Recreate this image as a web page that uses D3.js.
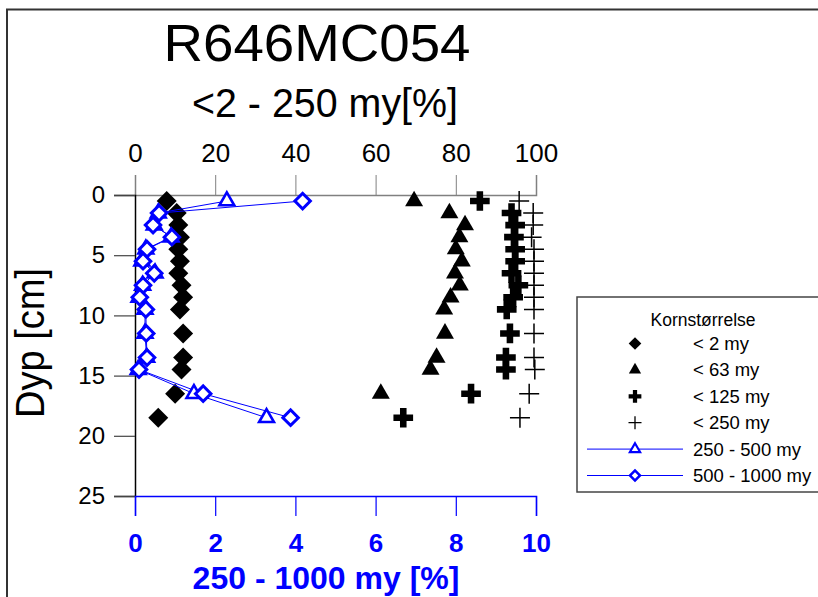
<!DOCTYPE html>
<html><head><meta charset="utf-8">
<script src="https://cdn.jsdelivr.net/npm/d3@7"></script>
<style>
html,body{margin:0;padding:0;background:#fff;overflow:hidden;}
svg{display:block;font-family:"Liberation Sans",Arial,sans-serif;}
</style></head>
<body>
<svg id="chart" width="818" height="597"></svg>
<script>
// ---- data ----
const depths   = [0.5,1.5,2.5,3.5,4.5,5.5,6.5,7.5,8.5,9.5,11.5,13.5,14.5,16.5,18.5];
const lt2      = [7.9,10.4,10.8,11.2,10.8,11.2,10.8,11.6,12.0,11.2,12.0,12.0,11.6,10.0,5.8];
const lt63     = [69.6,78.4,82.3,80.9,80.0,81.5,79.8,81.0,78.7,77.1,77.3,75.2,73.7,61.3,null];
const lt125    = [86.0,93.9,94.8,94.5,94.8,94.8,93.9,95.6,94.3,92.7,93.5,92.5,92.5,83.8,66.9];
const lt250    = [95.8,99.3,99.3,98.9,99.5,99.5,99.5,99.5,99.5,99.5,99.5,99.5,99.7,98.3,96.0];
const r250_500 = [2.29,0.58,0.48,0.90,0.27,0.17,0.50,0.19,0.10,0.25,0.25,0.29,0.08,1.47,3.28];
const r500_1000= [4.18,0.60,0.45,0.92,0.30,0.20,0.48,0.20,0.12,0.27,0.28,0.30,0.10,1.70,3.88];
const topTicks    = [0,20,40,60,80,100];
const bottomTicks = [0,2,4,6,8,10];
const depthTicks  = [0,5,10,15,20,25];
const legendLabels = ["< 2 my","< 63 my","< 125 my","< 250 my","250 - 500 my","500 - 1000 my"];
const titleText = "R646MC054";
const subtitleText = "<2 - 250 my[%]";
const legendTitle = "Kornstørrelse";
const yTitle = "Dyp [cm]";
const xBottomTitle = "250 - 1000 my [%]";

// ---- setup ----
const svg = d3.select("#chart");
const BLUE = "#0000ff";
const xTop = d3.scaleLinear().domain([0,100]).range([135,536]);
const xBot = d3.scaleLinear().domain([0,10]).range([135,536]);
const y = d3.scaleLinear().domain([0,25]).range([195,496]);

// outer frame
svg.append("path").attr("d","M7,597 V9.5 H830").attr("fill","none").attr("stroke","#333").attr("stroke-width",2);

// titles
svg.append("text").attr("x",317).attr("y",61).attr("text-anchor","middle")
  .attr("font-size",52).attr("textLength",307).attr("lengthAdjust","spacingAndGlyphs").text(titleText);
svg.append("text").attr("x",325).attr("y",117).attr("text-anchor","middle")
  .attr("font-size",40).attr("textLength",266).attr("lengthAdjust","spacingAndGlyphs").text(subtitleText);

// top axis
const gTop = svg.append("g").attr("transform","translate(0,195)");
gTop.call(d3.axisTop(xTop).tickValues(d3.range(10,100,20)).tickSize(10).tickFormat(""));
gTop.call(d3.axisTop(xTop).tickValues(topTicks).tickSize(20).tickPadding(13).tickFormat(d3.format("d")));
gTop.selectAll("path.domain").attr("stroke","#808080").attr("stroke-width",1.5);
gTop.selectAll("line").attr("stroke","#808080");
gTop.selectAll("text").attr("font-size",26).attr("fill","#000").attr("font-family","Liberation Sans,Arial,sans-serif");

// left axis
const gLeft = svg.append("g").attr("transform","translate(135,0)");
gLeft.call(d3.axisLeft(y).tickValues(depthTicks).tickSize(21).tickPadding(9).tickFormat(d3.format("d")));
gLeft.selectAll("path.domain").attr("stroke","#000").attr("stroke-width",1.5);
gLeft.selectAll("line").attr("stroke","#444").attr("stroke-width",1.2);
gLeft.selectAll("text").attr("font-size",24).attr("fill","#000").attr("font-family","Liberation Sans,Arial,sans-serif");

// bottom axis
const gBot = svg.append("g").attr("transform","translate(0,496)");
gBot.call(d3.axisBottom(xBot).tickValues(d3.range(1,10,2)).tickSize(10).tickFormat(""));
gBot.call(d3.axisBottom(xBot).tickValues(bottomTicks).tickSize(20).tickPadding(18).tickFormat(d3.format("d")));
gBot.selectAll("path.domain").attr("stroke",BLUE).attr("stroke-width",1.5);
gBot.selectAll("line").attr("stroke",BLUE).attr("stroke-width",1.2);
gBot.selectAll("text").attr("font-size",26).attr("font-weight","bold").attr("fill",BLUE).attr("font-family","Liberation Sans,Arial,sans-serif");

// axis titles
svg.append("text").attr("transform","translate(44,343) rotate(-90)").attr("text-anchor","middle")
  .attr("font-size",41).attr("textLength",150).attr("lengthAdjust","spacingAndGlyphs").text(yTitle);
svg.append("text").attr("x",326).attr("y",589).attr("text-anchor","middle")
  .attr("font-size",32).attr("font-weight","bold").attr("fill",BLUE).text(xBottomTitle);

// marker generators
const diamondPath = s => d3.symbol(d3.symbolSquare, s)();
const triPath = s => d3.symbol(d3.symbolTriangle, s)();
const crossPath = s => d3.symbol(d3.symbolCross, s)();
const thinPlus = h => `M${-h},0H${h}M0,${-h}V${h}`;

const plot = svg.append("g");
function pts(vals){ return depths.map((d,i)=>({d, v: vals[i]})).filter(p=>p.v!=null); }

// black series
plot.selectAll("path.lt2").data(pts(lt2)).join("path").attr("class","lt2")
  .attr("d",diamondPath(200)).attr("fill","#000")
  .attr("transform",p=>`translate(${xTop(p.v)},${y(p.d)}) rotate(45)`);
plot.selectAll("path.lt63").data(pts(lt63)).join("path").attr("class","lt63")
  .attr("d",triPath(140)).attr("fill","#000")
  .attr("transform",p=>`translate(${xTop(p.v)},${y(p.d)})`);
plot.selectAll("path.lt125").data(pts(lt125)).join("path").attr("class","lt125")
  .attr("d",crossPath(215)).attr("fill","#000")
  .attr("transform",p=>`translate(${xTop(p.v)},${y(p.d)})`);
plot.selectAll("path.lt250").data(pts(lt250)).join("path").attr("class","lt250")
  .attr("d",thinPlus(10)).attr("fill","none").attr("stroke","#000").attr("stroke-width",1.5)
  .attr("transform",p=>`translate(${xTop(p.v)},${y(p.d)})`);

// blue series
const line = d3.line().x(p=>xBot(p.v)).y(p=>y(p.d));
[r250_500, r500_1000].forEach(vals=>{
  plot.append("path").datum(pts(vals)).attr("d",line).attr("fill","none").attr("stroke",BLUE).attr("stroke-width",1);
});
plot.selectAll("path.r250").data(pts(r250_500)).join("path").attr("class","r250")
  .attr("d",triPath(95)).attr("fill","#fff").attr("stroke",BLUE).attr("stroke-width",2.6)
  .attr("transform",p=>`translate(${xBot(p.v)},${y(p.d)})`);
plot.selectAll("path.r500").data(pts(r500_1000)).join("path").attr("class","r500")
  .attr("d",diamondPath(120)).attr("fill","#fff").attr("stroke",BLUE).attr("stroke-width",3)
  .attr("transform",p=>`translate(${xBot(p.v)},${y(p.d)}) rotate(45)`);

// legend
const lg = svg.append("g");
lg.append("rect").attr("x",577).attr("y",297).attr("width",260).attr("height",195)
  .attr("fill","#fff").attr("stroke","#444").attr("stroke-width",1.5);
lg.append("text").attr("x",703).attr("y",326).attr("text-anchor","middle").attr("font-size",17.5).text(legendTitle);
const rowY = i => 343.5 + i*26.4;
const mx = 635;
legendLabels.forEach((lab,i)=>{
  lg.append("text").attr("x",693).attr("y",rowY(i)).attr("dy","0.35em").attr("font-size",18.5).text(lab);
});
lg.append("path").attr("d",diamondPath(80)).attr("fill","#000").attr("transform",`translate(${mx},${rowY(0)}) rotate(45)`);
lg.append("path").attr("d",triPath(65)).attr("fill","#000").attr("transform",`translate(${mx},${rowY(1)})`);
lg.append("path").attr("d",crossPath(90)).attr("fill","#000").attr("transform",`translate(${mx},${rowY(2)})`);
lg.append("path").attr("d",thinPlus(6.5)).attr("stroke","#000").attr("stroke-width",1.3).attr("transform",`translate(${mx},${rowY(3)})`);
[4,5].forEach(i=>{
  lg.append("line").attr("x1",587).attr("x2",683).attr("y1",rowY(i)).attr("y2",rowY(i)).attr("stroke",BLUE).attr("stroke-width",1);
});
lg.append("path").attr("d",triPath(45)).attr("fill","#fff").attr("stroke",BLUE).attr("stroke-width",2.2).attr("transform",`translate(${mx},${rowY(4)})`);
lg.append("path").attr("d",diamondPath(50)).attr("fill","#fff").attr("stroke",BLUE).attr("stroke-width",2.5).attr("transform",`translate(${mx},${rowY(5)}) rotate(45)`);
</script>
</body></html>
